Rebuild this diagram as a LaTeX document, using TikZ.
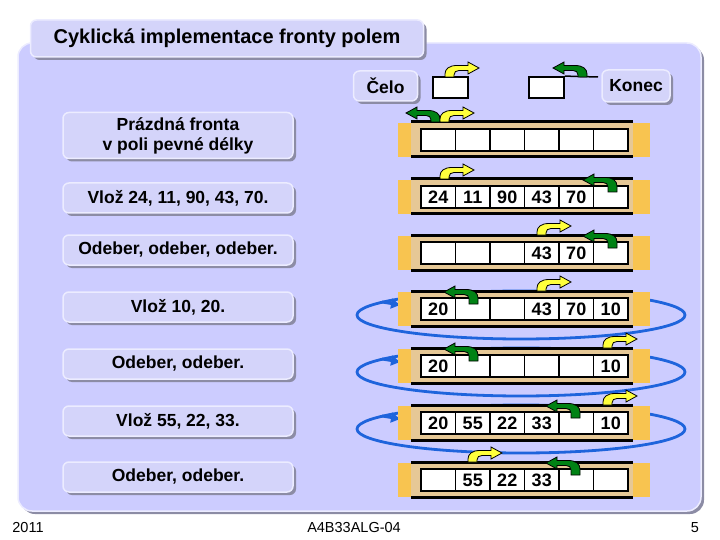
\documentclass[tikz,border=0pt]{standalone}
\usepackage{fontspec}
\setmainfont{Liberation Sans}
\usetikzlibrary{arrows.meta,shadows}

\definecolor{panelblue}{RGB}{204,204,255}
\definecolor{btnblue}{RGB}{212,212,250}
\definecolor{btnedge}{RGB}{236,236,255}
\definecolor{shadowgray}{RGB}{140,140,165}
\definecolor{trayorange}{RGB}{248,196,80}
\definecolor{traytan}{RGB}{230,200,150}
\definecolor{headyellow}{RGB}{255,255,60}
\definecolor{tailgreen}{RGB}{0,130,20}
\definecolor{loopblue}{RGB}{30,100,220}

% pointer arrow: x of stem, y of stem base, extra stem, options
\newcommand{\ptrarrow}[4]{%
  \begin{scope}[shift={(#1,#2)},#4]
    \filldraw[line width=0.8pt] (0,#3) -- (0,-3) .. controls (0,-8) and (4,-11.5) .. (12,-11.5)
      -- (23,-11.5) -- (23,-15) -- (34,-9) -- (23,-3) -- (23,-6.5) -- (14,-6.5)
      .. controls (11,-6.5) and (9,-5) .. (9,-2) -- (9,#3) -- cycle;
  \end{scope}}
\newcommand{\celoptr}[2]{\ptrarrow{#1}{#2}{0}{fill=headyellow}}
\newcommand{\konecptr}[3]{\ptrarrow{#1}{#2}{#3}{xscale=-1,fill=tailgreen}}

% array of six cells: name, centre y, values
\newcommand{\tray}[3]{%
  \fill[trayorange] (398,#2-17) rectangle (650,#2+17);
  \fill[traytan] (411,#2-18) rectangle (633,#2+17);
  \draw[line width=3pt] (411,#2-18) -- (633,#2-18) (411,#2+17) -- (633,#2+17);
  \foreach \v [count=\i from 0] in {#3}
    \node[cell] (#1c\i) at (438.25+34.5*\i,#2) {\v};}

% circular wrap round an array
\newcommand{\wraploop}[1]{%
  \draw[wraparound] (521,#1+6) ellipse [x radius=164pt, y radius=24pt];
  \draw[wraparound, -{Triangle[length=9pt,width=10pt]}] (382,#1-7) -- (400,#1-4);}

\begin{document}
\begin{tikzpicture}[x=1pt, y=-1pt,
  shadowed/.style={drop shadow={shadow xshift=3pt, shadow yshift=-3pt, fill=shadowgray, opacity=1}},
  btn/.style={shadowed, rounded corners=6pt, fill=btnblue, draw=btnedge, line width=1.5pt,
    inner sep=2pt, font=\fontsize{17.5}{20}\selectfont\bfseries, align=center},
  cell/.style={draw, line width=1.8pt, fill=white, minimum width=34.5pt, minimum height=22pt,
    inner sep=0pt, font=\fontsize{18}{18}\selectfont\bfseries},
  box/.style={draw, line width=1.8pt, fill=white, minimum width=35pt, minimum height=21pt},
  wraparound/.style={loopblue, line width=2.8pt},
  foot/.style={font=\fontsize{14.5}{14.5}\selectfont}]
  \useasboundingbox (0,0) rectangle (720,540);

  % panel and title
  \draw[shadowed, rounded corners=14pt, fill=panelblue, draw=btnedge, line width=1.5pt] (18,43) rectangle (701,511);
  \node[btn, minimum width=393pt, minimum height=37pt, font=\fontsize{20}{22}\selectfont\bfseries] (title) at (227,38.5) {Cyklická implementace fronty polem};

  % head and tail legend
  \node[btn, minimum width=64pt, minimum height=30pt] (celo) at (385.5,86) {Čelo};
  \node[btn, minimum width=68pt, minimum height=32pt] (konec) at (636,86) {Konec};
  \node[box] (cbox) at (450.5,87.5) {};
  \node[box] (kbox) at (546.5,87.5) {};
  \coordinate (kend) at (598,77);
  \draw[line width=1.5pt] (kbox.north east) -- (kend);
  \celoptr{445}{77}
  \konecptr{587}{77}{0}

  % operations
  \node[btn, minimum width=230pt, minimum height=46pt] (empty) at (178,135.5) {Prázdná fronta\\v poli pevné délky};
  \node[btn, minimum width=230pt, minimum height=30pt] (ins1) at (178,198) {Vlož 24, 11, 90, 43, 70.};
  \node[btn, minimum width=230pt, minimum height=30pt] (del1) at (178,250) {Odeber, odeber, odeber.};
  \node[btn, minimum width=230pt, minimum height=30pt] (ins2) at (178,307) {Vlož 10, 20.};
  \node[btn, minimum width=230pt, minimum height=30pt] (del2) at (178,364) {Odeber, odeber.};
  \node[btn, minimum width=230pt, minimum height=30pt] (ins3) at (178,421) {Vlož 55, 22, 33.};
  \node[btn, minimum width=230pt, minimum height=30pt] (del3) at (178,477) {Odeber, odeber.};

  % wrap loops
  \wraploop{309}
  \wraploop{366}
  \wraploop{423}

  % arrays
  \tray{r1}{140}{{},{},{},{},{},{}}
  \konecptr{440}{122}{0}
  \celoptr{440}{122}
  \tray{r2}{197}{24,11,90,43,70,{}}
  \konecptr{617}{189}{3}
  \celoptr{440}{179}
  \tray{r3}{253}{{},{},{},43,70,{}}
  \konecptr{617}{245}{3}
  \celoptr{537}{235}
  \tray{r4}{309}{20,{},{},43,70,10}
  \konecptr{478}{301}{3}
  \celoptr{537}{291}
  \tray{r5}{366}{20,{},{},{},{},10}
  \konecptr{478}{358}{3}
  \celoptr{603}{348}
  \tray{r6}{423}{20,55,22,33,{},10}
  \konecptr{580}{415}{3}
  \celoptr{603}{405}
  \tray{r7}{480}{{},55,22,33,{},{}}
  \konecptr{580}{472}{3}
  \celoptr{468}{462}

  % footer
  \node[foot] (year) at (28,528) {2011};
  \node[foot] (course) at (354,528) {A4B33ALG-04};
  \node[foot] (page) at (695,528) {5};
\end{tikzpicture}
\end{document}
